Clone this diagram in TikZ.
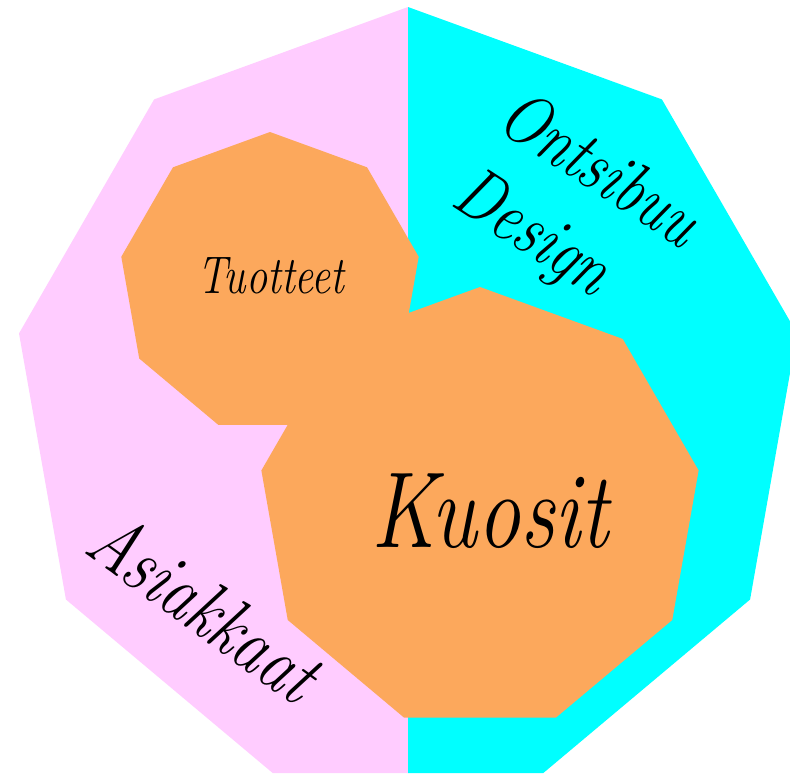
\documentclass[tikz,border=0pt]{standalone}
\usepackage{fontspec}
\setmainfont{Latin Modern Roman}
\definecolor{pinkfill}{RGB}{255,204,255}
\definecolor{cyanfill}{RGB}{0,255,255}
\definecolor{orangefill}{RGB}{252,168,92}
\tikzset{
  handtext/.style={anchor=base, xscale=0.8, inner sep=0pt, text=black},
}
\begin{document}
\begin{tikzpicture}[x=1pt,y=-1pt]
\useasboundingbox (0,0) rectangle (790,774);
\clip (0,0) rectangle (790,774);
% outer nonagon, left half pink
\begin{scope}
  \clip (0,0) rectangle (408,774);
  \fill[pinkfill] plot[samples at={0,40,...,320}] ({408+395*sin(\x)},{402-395*cos(\x)}) -- cycle;
\end{scope}
% right half cyan
\begin{scope}
  \clip (408,0) rectangle (790,774);
  \fill[cyanfill] plot[samples at={0,40,...,320}] ({408+395*sin(\x)},{402-395*cos(\x)}) -- cycle;
\end{scope}
% orange nonagons
\fill[orangefill] plot[samples at={0,40,...,320}] ({270+151*sin(\x)},{283-151*cos(\x)}) -- cycle;
\fill[orangefill] plot[samples at={0,40,...,320}] ({480+222*sin(\x)},{509-222*cos(\x)}) -- cycle;
% texts
\node[handtext, font=\fontsize{53}{55}\selectfont\itshape] (tuotteet) at (271,293) {Tuotteet};
\node[handtext, font=\fontsize{108}{110}\selectfont\itshape] (kuosit) at (490,547) {Kuosit};
\node[rotate=-33, handtext, font=\fontsize{73}{75}\selectfont\itshape] (ontsibuu) at (588,188) {Ontsibuu};
\node[rotate=-33, handtext, font=\fontsize{74}{76}\selectfont\itshape] (design) at (521,251) {Design};
\node[rotate=-36, handtext, font=\fontsize{80}{82}\selectfont\itshape] (asiakkaat) at (189,629) {Asiakkaat};
\end{tikzpicture}
\end{document}
